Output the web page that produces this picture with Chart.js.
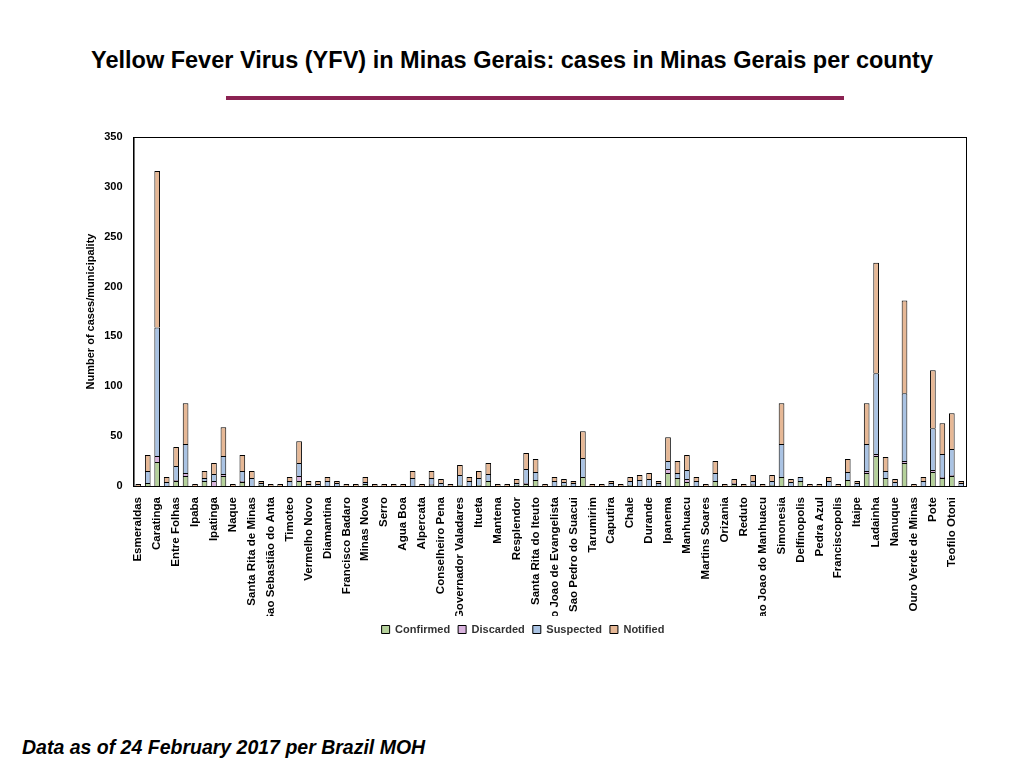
<!DOCTYPE html>
<html><head><meta charset="utf-8">
<script src="https://cdn.jsdelivr.net/npm/chart.js@4/dist/chart.umd.min.js"></script>
<style>
body{margin:0;width:1024px;height:768px;background:#fff;font-family:"Liberation Sans",Arial,sans-serif;position:relative;overflow:hidden}
#t{position:absolute;top:47px;left:0;width:1024px;text-align:center;font-weight:bold;font-size:23.5px;color:#000}
#bar{position:absolute;top:96px;left:226px;width:618px;height:4px;background:#8b2252}
#f{position:absolute;top:736px;left:22px;font-weight:bold;font-style:italic;font-size:19.5px}
#w{position:absolute;left:80px;top:125px;width:900px;height:520px}
</style></head><body>
<div id="t">Yellow Fever Virus (YFV) in Minas Gerais: cases in Minas Gerais per county</div>
<div id="bar"></div>
<div id="w"><canvas id="c"></canvas></div>
<div id="f">Data as of 24 February 2017 per Brazil MOH</div>
<script>
const shownLabels=["Esmeraldas","Caratinga","Entre Folhas","Ipaba","Ipatinga","Naque","Santa Rita de Minas","Sao Sebastião do Anta","Timoteo","Vermelho Novo","Diamantina","Francisco Badaro","Minas Nova","Serro","Agua Boa","Alpercata","Conselheiro Pena","Governador Valadares","Itueta","Mantena","Resplendor","Santa Rita do Iteuto","Sao Joao de Evangelista","Sao Pedro do Suacui","Tarumirim","Caputira","Chale","Durande","Ipanema","Manhuacu","Martins Soares","Orizania","Reduto","Sao Joao do Manhuacu","Simonesia","Delfinopolis","Pedra Azul","Franciscopolis","Itaipe","Ladainha","Nanuque","Ouro Verde de Minas","Pote","Teofilo Otoni"];
const categories=[];shownLabels.forEach(l=>{categories.push(l);categories.push("");});
const confirmed=[0,3,24,0,5,10,0,5,0,10,0,4,0,1,0,0,0,5,0,0,0,0,0,0,2,0,0,0,0,0,0,1,0,0,1,0,1,5,0,0,1,2,6,0,0,1,0,9,0,0,0,0,1,0,0,0,13,8,4,0,0,5,0,2,0,1,0,1,9,0,5,0,0,0,0,6,0,13,30,8,0,23,0,0,14,8,10,0];
const discarded=[0,0,6,0,1,3,0,0,5,2,0,1,0,0,0,0,0,5,0,0,0,0,0,0,0,0,0,0,0,0,0,1,0,0,0,0,0,0,0,0,0,1,0,0,0,0,0,0,0,0,0,0,0,0,0,0,4,0,3,0,0,0,0,1,0,1,0,0,0,0,0,0,0,0,0,0,0,2,2,0,0,2,0,0,2,1,1,0];
const suspected=[0,12,129,4,14,29,0,3,7,18,0,10,8,2,0,0,5,13,2,2,5,3,0,0,2,0,0,0,0,8,0,6,3,0,10,5,7,7,0,0,2,14,8,0,5,3,3,19,0,0,3,0,4,6,7,3,8,5,9,5,0,8,0,0,0,3,0,4,33,4,4,0,0,5,0,8,3,27,81,7,4,68,0,5,42,23,26,3];
const notified=[2,16,157,5,19,41,2,7,11,29,2,16,7,2,2,2,4,22,3,3,4,2,2,2,5,2,2,2,2,7,2,7,4,2,10,4,7,11,2,2,4,16,13,2,4,3,2,27,2,2,2,2,4,5,6,2,24,12,15,4,2,12,2,4,2,6,2,6,41,3,0,2,2,4,2,13,2,41,111,14,3,93,2,4,58,31,36,2];
const yTicks=[0,50,100,150,200,250,300,350];
const mk=(l,d,c)=>({label:l,data:d,backgroundColor:c,borderColor:'#000',borderWidth:1,barPercentage:0.6,categoryPercentage:1});
const frame={id:'frame',afterDraw(ch){const a=ch.chartArea,x=ch.ctx;x.save();x.strokeStyle='#000';x.lineWidth=1;x.strokeRect(a.left+0.5,a.top+0.5,a.right-a.left,a.bottom-a.top);x.restore();}};
Chart.defaults.font.family='"Liberation Sans",Arial,sans-serif';
Chart.defaults.color='#000';
new Chart(document.getElementById('c'),{type:'bar',
data:{labels:categories,datasets:[mk('Confirmed',confirmed,'#b5d19b'),mk('Discarded',discarded,'#d9b3de'),mk('Suspected',suspected,'#aac3e3'),mk('Notified',notified,'#e6b896')]},
options:{responsive:true,maintainAspectRatio:false,animation:false,
layout:{padding:{top:12,right:14,left:0,bottom:0}},
plugins:{tooltip:{enabled:false},legend:{position:'bottom',labels:{boxWidth:8,boxHeight:8,font:{size:11,weight:'bold'},padding:8,color:'#333'}}},
scales:{x:{stacked:true,grid:{display:false},border:{color:'#000'},afterFit(s){s.height=130;},ticks:{autoSkip:false,maxRotation:90,minRotation:90,font:{size:11.5,weight:'bold'},padding:3}},
y:{stacked:true,min:0,max:350,afterBuildTicks(s){s.ticks=yTicks.map(v=>({value:v}));},grid:{display:false},border:{color:'#000'},ticks:{font:{size:11,weight:'bold'}},
title:{display:true,text:'Number of cases/municipality',font:{size:11,weight:'bold'}}}}},
plugins:[frame]});
</script></body></html>
